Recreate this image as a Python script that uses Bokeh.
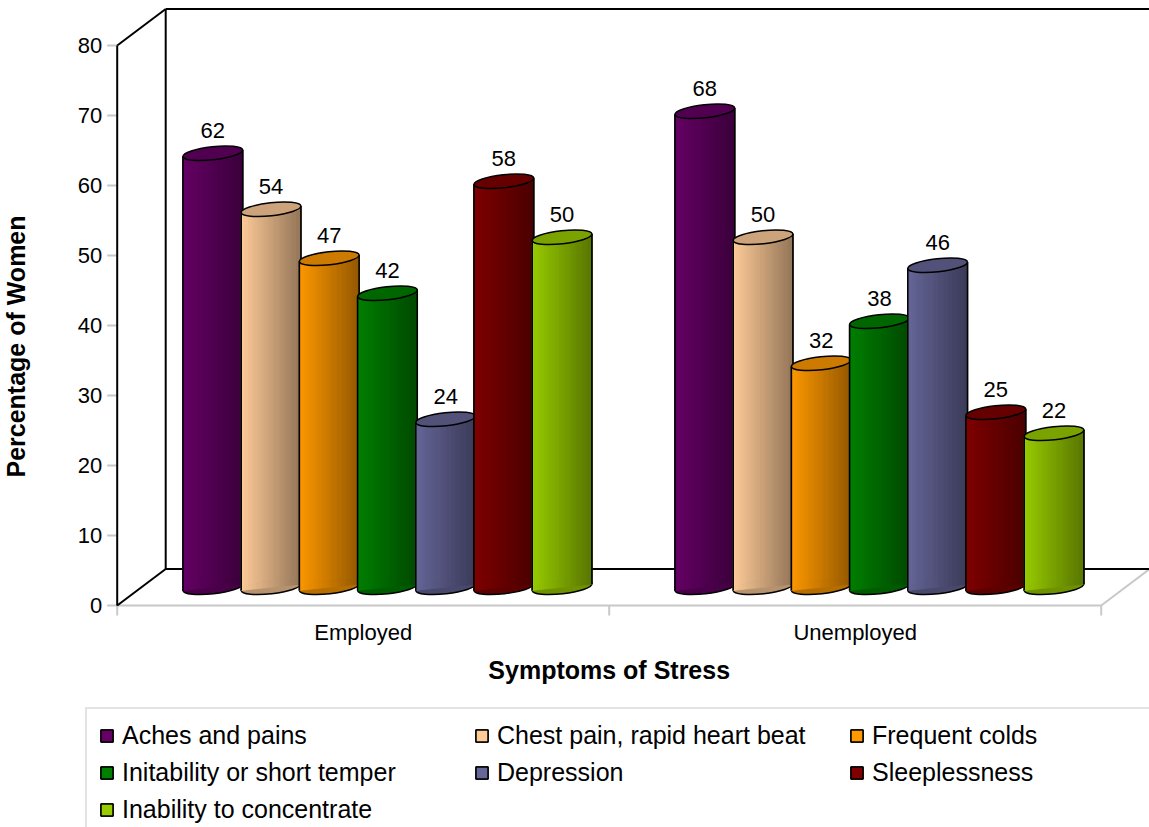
import math
from bokeh.plotting import figure
from bokeh.models import Range1d, Legend, LegendItem, ColumnDataSource
from bokeh.embed import file_html
from bokeh.resources import INLINE
from bokeh.core.properties import value

# ---------------- data ----------------
groups = ["Employed", "Unemployed"]
series = ["Aches and pains", "Chest pain, rapid heart beat", "Frequent colds",
          "Initability or short temper", "Depression", "Sleeplessness",
          "Inability to concentrate"]
employed = [62, 54, 47, 42, 24, 58, 50]
unemployed = [68, 50, 32, 38, 46, 25, 22]
colors = ["#660066", "#FFCC99", "#FF9900", "#008000", "#666699", "#800000", "#99CC00"]
y_ticks = [0, 10, 20, 30, 40, 50, 60, 70, 80]
x_title = "Symptoms of Stress"
y_title = "Percentage of Women"

values_by_group = [employed, unemployed]

# ---------------- geometry / style ----------------
FONT = "Liberation Sans"
PXX = 492.0          # px per category unit
PXY = 7.0            # px per percent
DX = 48.5 / PXX      # depth offset (x)
DY = 36.5 / PXY      # depth offset (y)
PITCH = 58.2 / PXX   # cylinder pitch
A_PX, B_PX = 30.0, 6.5   # ellipse half axes in px
ANG = 0.11
HWX_PX = math.sqrt((A_PX * math.cos(ANG)) ** 2 + (B_PX * math.sin(ANG)) ** 2)
OFF_PX = (A_PX ** 2 - B_PX ** 2) * math.sin(ANG) * math.cos(ANG) / HWX_PX
HWX = HWX_PX / PXX
OFF = OFF_PX / PXY
NSTRIP = 24
GRAY = "#c8c8c8"

W, H = 1149, 827
OX, OY = 116.7, 605.0     # where the value origin sits on the canvas (px)

p = figure(width=W, height=H,
           x_range=Range1d(-OX / PXX, (W - OX) / PXX),
           y_range=Range1d((OY - H) / PXY, OY / PXY),
           output_backend="svg", toolbar_location=None,
           x_axis_location=None, y_axis_location=None,
           min_border_left=0, min_border_right=0, min_border_top=0, min_border_bottom=0)
p.xgrid.visible = False
p.ygrid.visible = False
p.outline_line_color = None
p.background_fill_color = "white"
p.border_fill_color = "white"


def shade(hexc, f):
    r, g, b = int(hexc[1:3], 16), int(hexc[3:5], 16), int(hexc[5:7], 16)
    return "#%02x%02x%02x" % (int(r * f), int(g * f), int(b * f))


def mix(hexc, f0, f1, t):
    return shade(hexc, f0 + (f1 - f0) * t)


ymax = y_ticks[-1]
ng = len(groups)

# ---------------- walls / floor / ticks ----------------
p.segment(x0=[-10 / PXX] * len(y_ticks), y0=y_ticks, x1=[0] * len(y_ticks), y1=y_ticks,
          line_color=GRAY, line_width=2)
p.segment(x0=[0, ng], y0=[0, 0], x1=[ng, ng + DX], y1=[0, DY],
          line_color=GRAY, line_width=2)
p.segment(x0=list(range(ng + 1)), y0=[0] * (ng + 1),
          x1=list(range(ng + 1)), y1=[-10 / PXY] * (ng + 1),
          line_color=GRAY, line_width=2)
wx0 = [0, 0, 0, DX, DX, DX]
wy0 = [0, ymax, 0, DY, ymax + DY, DY]
wx1 = [0, DX, DX, DX, ng + DX, ng + DX]
wy1 = [ymax, ymax + DY, DY, ymax + DY, ymax + DY, DY]
p.segment(x0=wx0, y0=wy0, x1=wx1, y1=wy1, line_color="black", line_width=2)

# ---------------- cylinders ----------------
base_renderers = {}
lab_x, lab_y, lab_t = [], [], []
n = len(series)
for g, vals in enumerate(values_by_group):
    for j, v in enumerate(vals):
        c = colors[j]
        cx = g + 0.5 + (j - (n - 1) / 2) * PITCH + DX / 2
        yb = DY / 2
        yt = v + DY / 2
        xl, xr = cx - HWX, cx + HWX
        r = p.patch(x=[xl, xr, xr, xl], y=[yb - OFF, yb + OFF, yt + OFF, yt - OFF],
                    fill_color=c, line_color="black", line_width=1.5)
        base_renderers[(g, j)] = r
        p.ellipse(x=[cx], y=[yb], width=2 * A_PX / PXX, height=2 * B_PX / PXY,
                  angle=ANG, fill_color=shade(c, 0.72), line_color="black", line_width=1.5)
        xs, ys, fc = [], [], []
        for k in range(NSTRIP):
            xa = xl + (xr - xl) * k / NSTRIP
            xb = xl + (xr - xl) * (k + 1) / NSTRIP
            ta = (xa - cx) / HWX
            tb = (xb - cx) / HWX
            xs.append([xa, xb, xb, xa])
            ys.append([yb + OFF * ta, yb + OFF * tb, yt + OFF * tb, yt + OFF * ta])
            fc.append(mix(c, 1.0, 0.58, (k + 0.5) / NSTRIP))
        src = ColumnDataSource(dict(xs=xs, ys=ys, fc=fc))
        p.patches(xs="xs", ys="ys", fill_color="fc", line_color="fc",
                  line_width=0.8, source=src)
        p.segment(x0=[xl, xr], y0=[yb - OFF, yb + OFF], x1=[xl, xr], y1=[yt - OFF, yt + OFF],
                  line_color="black", line_width=1.5)
        p.ellipse(x=[cx], y=[yt], width=2 * A_PX / PXX, height=2 * B_PX / PXY,
                  angle=ANG, fill_color=shade(c, 0.8), line_color="black", line_width=1.5)
        lab_x.append(cx)
        lab_y.append(yt)
        lab_t.append(str(v))

p.text(x=lab_x, y=lab_y, text=lab_t, text_align="center", text_baseline="alphabetic",
       y_offset=-23, text_font=value(FONT), text_font_size="22px", text_color="black")

# ---------------- axis texts ----------------
p.text(x=[0] * len(y_ticks), y=y_ticks, text=[str(t) for t in y_ticks],
       text_align="right", text_baseline="middle", x_offset=-15,
       text_font=value(FONT), text_font_size="22px", text_color="black")
centers = [i + 0.5 for i in range(ng)]
p.text(x=centers, y=[0] * ng, text=groups, text_align="center", text_baseline="alphabetic",
       y_offset=27, text_font=value(FONT), text_font_size="22px", text_color="black")
p.text(x=[ng / 2], y=[0], text=[x_title], text_align="center", text_baseline="alphabetic",
       y_offset=64, text_font=value(FONT), text_font_size="25px",
       text_font_style="bold", text_color="black")
p.text(x=[0], y=[ymax / 2], text=[y_title], angle=math.pi / 2, text_align="center",
       text_baseline="alphabetic", x_offset=-101, y_offset=21,
       text_font=value(FONT), text_font_size="25px", text_font_style="bold",
       text_color="black")

# ---------------- legend ----------------
items = [LegendItem(label=s, renderers=[base_renderers[(g, j)] for g in range(ng)])
         for j, s in enumerate(series)]
legend = Legend(items=items, orientation="horizontal", ncols=3,
                location=(85, -11), glyph_width=15, glyph_height=15,
                label_standoff=8, label_width=344, spacing=8, padding=12, margin=0,
                border_line_color=GRAY, border_line_width=2,
                background_fill_color="white", background_fill_alpha=1.0,
                label_text_font=FONT, label_text_font_size="25px",
                label_text_color="black")
p.add_layout(legend, "center")

open("out.html", "w").write(file_html(p, INLINE))
